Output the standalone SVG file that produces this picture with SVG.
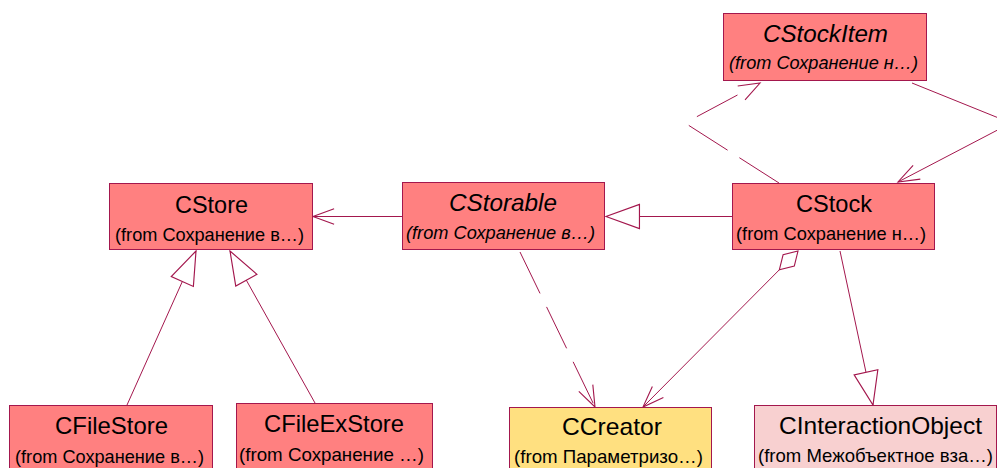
<svg xmlns="http://www.w3.org/2000/svg" width="997" height="468" viewBox="0 0 997 468">
  <style>
    .cls { fill: #FF8080; stroke: #A3174D; stroke-width: 1; }
    .param { fill: #FFE080; stroke: #A3174D; stroke-width: 1; }
    .ext { fill: #F8D0D0; stroke: #A3174D; stroke-width: 1; }
    .name { font-family: "Liberation Sans", Arial, sans-serif; font-size: 24px; fill: #000; }
    .from { font-family: "Liberation Sans", Arial, sans-serif; font-size: 18.5px; fill: #000; }
    .abstract { font-style: italic; }
    .edge { fill: none; stroke: #A3174D; stroke-width: 1; }
    .dash { stroke-dasharray: 46 15; }
    .head { stroke: #A3174D; stroke-width: 1; stroke-dasharray: none; }
  </style>
  <defs>
    <!-- hollow triangle: generalization -->
    <marker id="tri" markerUnits="userSpaceOnUse" markerWidth="40" markerHeight="30" viewBox="-31 -13 33 26" refX="0" refY="0" orient="auto">
      <path class="head" d="M0,0 L-29,-10.5 L-29,10.5 Z" fill="#FFFFFF"/>
    </marker>
    <!-- open arrow: navigable association / dependency -->
    <marker id="open" markerUnits="userSpaceOnUse" markerWidth="30" markerHeight="20" viewBox="-21 -9 23 18" refX="0" refY="0" orient="auto">
      <path class="head" d="M-19,-7 L0,0 L-19,7" fill="none"/>
    </marker>
    <!-- hollow diamond: aggregation -->
    <marker id="diamond" markerUnits="userSpaceOnUse" markerWidth="30" markerHeight="20" viewBox="-2 -9 28 18" refX="0" refY="0" orient="auto">
      <path class="head" d="M0,0 L12.3,-7.4 L24.7,0 L12.3,7.4 Z" fill="#FFFFFF"/>
    </marker>
  </defs>

  <g id="connectors">
    <!-- CStorable -> CStore -->
    <path class="edge" d="M402,216.5 L313,216.5" marker-end="url(#open)"/>
    <!-- CStock generalizes CStorable -->
    <path class="edge" d="M732,216.5 L606,216.5" marker-end="url(#tri)"/>
    <!-- CFileStore / CFileExStore generalize CStore -->
    <path class="edge" d="M127,405 L196,251" marker-end="url(#tri)"/>
    <path class="edge" d="M315,403 L230,251" marker-end="url(#tri)"/>
    <!-- CStorable depends on CCreator -->
    <path class="edge dash" d="M520,252 L595,407" marker-end="url(#open)"/>
    <!-- CStock aggregates CCreator -->
    <path class="edge" d="M798,251 L643,407" marker-start="url(#diamond)" marker-end="url(#open)"/>
    <!-- CStock generalizes CInteractionObject -->
    <path class="edge" d="M840,251 L873,405" marker-end="url(#tri)"/>
    <!-- CStock depends on CStockItem -->
    <path class="edge" style="stroke-dasharray: 47 14 46 18 46 40" d="M779,183 L685,123 L760,83" marker-end="url(#open)"/>
    <!-- CStockItem -> CStock -->
    <path class="edge" d="M912,83 L1011,123 L898,182" marker-end="url(#open)"/>
  </g>

  <g id="CStockItem">
    <rect class="cls" x="723.5" y="13.5" width="203" height="67"/>
    <text class="name abstract" x="825.5" y="42" text-anchor="middle" textLength="125" lengthAdjust="spacingAndGlyphs">CStockItem</text>
    <text class="from abstract" x="823.5" y="69" text-anchor="middle" textLength="189" lengthAdjust="spacingAndGlyphs">(from Сохранение н…)</text>
  </g>

  <g id="CStore">
    <rect class="cls" x="109.5" y="183.5" width="203" height="66"/>
    <text class="name" x="211.5" y="213" text-anchor="middle" textLength="73" lengthAdjust="spacingAndGlyphs">CStore</text>
    <text class="from" x="209.5" y="241" text-anchor="middle" textLength="189" lengthAdjust="spacingAndGlyphs">(from Сохранение в…)</text>
  </g>

  <g id="CStorable">
    <rect class="cls" x="402.5" y="182.5" width="202" height="67"/>
    <text class="name abstract" x="503" y="211" text-anchor="middle" textLength="108" lengthAdjust="spacingAndGlyphs">CStorable</text>
    <text class="from abstract" x="500.5" y="239" text-anchor="middle" textLength="189" lengthAdjust="spacingAndGlyphs">(from Сохранение в…)</text>
  </g>

  <g id="CStock">
    <rect class="cls" x="732.5" y="183.5" width="202" height="66"/>
    <text class="name" x="834" y="212" text-anchor="middle" textLength="76" lengthAdjust="spacingAndGlyphs">CStock</text>
    <text class="from" x="831" y="240" text-anchor="middle" textLength="190" lengthAdjust="spacingAndGlyphs">(from Сохранение н…)</text>
  </g>

  <g id="CFileStore">
    <rect class="cls" x="9.5" y="405.5" width="203" height="75"/>
    <text class="name" x="111.5" y="434" text-anchor="middle" textLength="113" lengthAdjust="spacingAndGlyphs">CFileStore</text>
    <text class="from" x="109.5" y="463" text-anchor="middle" textLength="189" lengthAdjust="spacingAndGlyphs">(from Сохранение в…)</text>
  </g>

  <g id="CFileExStore">
    <rect class="cls" x="236.5" y="403.5" width="196" height="77"/>
    <text class="name" x="334" y="432" text-anchor="middle" textLength="140" lengthAdjust="spacingAndGlyphs">CFileExStore</text>
    <text class="from" x="331.5" y="461" text-anchor="middle" textLength="185" lengthAdjust="spacingAndGlyphs">(from Сохранение …)</text>
  </g>

  <g id="CCreator">
    <rect class="param" x="509.5" y="407.5" width="202" height="73"/>
    <text class="name" x="612" y="435" text-anchor="middle" textLength="100" lengthAdjust="spacingAndGlyphs">CCreator</text>
    <text class="from" x="608.5" y="463" text-anchor="middle" textLength="189" lengthAdjust="spacingAndGlyphs">(from Параметризо…)</text>
  </g>

  <g id="CInteractionObject">
    <rect class="ext" x="754.5" y="405.5" width="242" height="75"/>
    <text class="name" x="880.5" y="434" text-anchor="middle" textLength="203" lengthAdjust="spacingAndGlyphs">CInteractionObject</text>
    <text class="from" x="875.5" y="462" text-anchor="middle" textLength="235" lengthAdjust="spacingAndGlyphs">(from Межобъектное вза…)</text>
  </g>
</svg>
